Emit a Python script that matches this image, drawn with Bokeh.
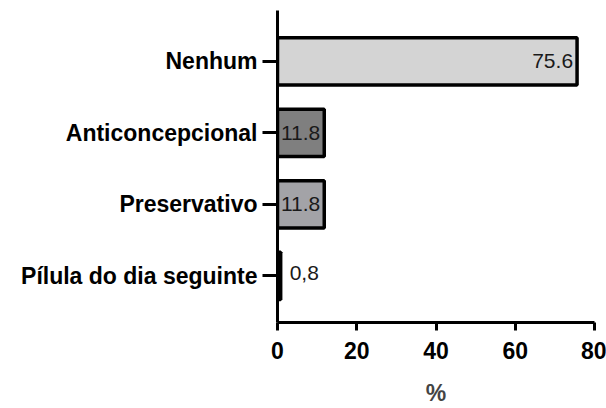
from bokeh.plotting import figure
from bokeh.models import ColumnDataSource, FixedTicker, Range1d
from bokeh.embed import file_html
from bokeh.resources import INLINE

# Contraceptive method used (percent of respondents), bottom to top
categories = ["Pílula do dia seguinte", "Preservativo", "Anticoncepcional", "Nenhum"]
values = [0.8, 11.8, 11.8, 75.6]
value_labels = ["0,8", "11.8", "11.8", "75.6"]
x_ticks = [0, 20, 40, 60, 80]

bar_colors = ["#ffffff", "#a3a3a7", "#7f7f7f", "#d4d4d4"]
FONT = "Liberation Sans"

positions = list(range(len(categories)))

p = figure(width=606, height=408, output_backend="svg", toolbar_location=None,
           x_range=Range1d(0, 80), y_range=Range1d(-0.65, 3.71),
           min_border_left=277, min_border_right=12, min_border_top=10,
           min_border_bottom=83)
p.outline_line_color = None
p.grid.visible = False
p.background_fill_color = "white"
p.border_fill_color = "white"

src = ColumnDataSource(dict(y=positions, v=values, color=bar_colors, label=value_labels))

p.hbar(y="y", left=0, right="v", height=0.66, source=src,
       fill_color="color", line_color="black", line_width=3.5)

# value annotations: inside the bar end for wide bars, just right of the thin one
inside = ColumnDataSource(dict(y=positions[1:], v=values[1:], label=value_labels[1:]))
outside = ColumnDataSource(dict(y=positions[:1], v=values[:1], label=value_labels[:1]))
p.text(x="v", y="y", text="label", source=inside, text_align="right",
       text_baseline="middle", x_offset=-4, text_font_size="21px",
       text_color="#1a1a1a", text_font={"value": FONT})
p.text(x="v", y="y", text="label", source=outside, text_align="left",
       text_baseline="middle", x_offset=9, y_offset=-3, text_font_size="21px",
       text_color="#1a1a1a", text_font={"value": FONT})

# y axis with category names
ya = p.yaxis[0]
ya.ticker = FixedTicker(ticks=positions)
ya.major_label_overrides = {i: c for i, c in zip(positions, categories)}
ya.major_label_text_font = FONT
ya.major_label_text_font_style = "bold"
ya.major_label_text_font_size = "23px"
ya.major_label_text_color = "black"
ya.major_label_standoff = 5
ya.major_tick_out = 15
ya.major_tick_in = 0
ya.minor_tick_out = 0
ya.minor_tick_in = 0
ya.axis_line_width = 3
ya.major_tick_line_width = 3

# x axis with percentage scale
xa = p.xaxis[0]
xa.ticker = FixedTicker(ticks=x_ticks)
xa.axis_label = "%"
xa.axis_label_text_font = FONT
xa.axis_label_text_font_style = "bold"
xa.axis_label_text_font_size = "23px"
xa.axis_label_standoff = 18
xa.major_label_text_font = FONT
xa.major_label_text_font_style = "bold"
xa.major_label_text_font_size = "23px"
xa.major_label_text_color = "black"
xa.major_label_standoff = 11
xa.major_tick_out = 8
xa.major_tick_in = 0
xa.minor_tick_out = 0
xa.minor_tick_in = 0
xa.axis_line_width = 3
xa.major_tick_line_width = 3

open("out.html", "w").write(file_html(p, INLINE))
